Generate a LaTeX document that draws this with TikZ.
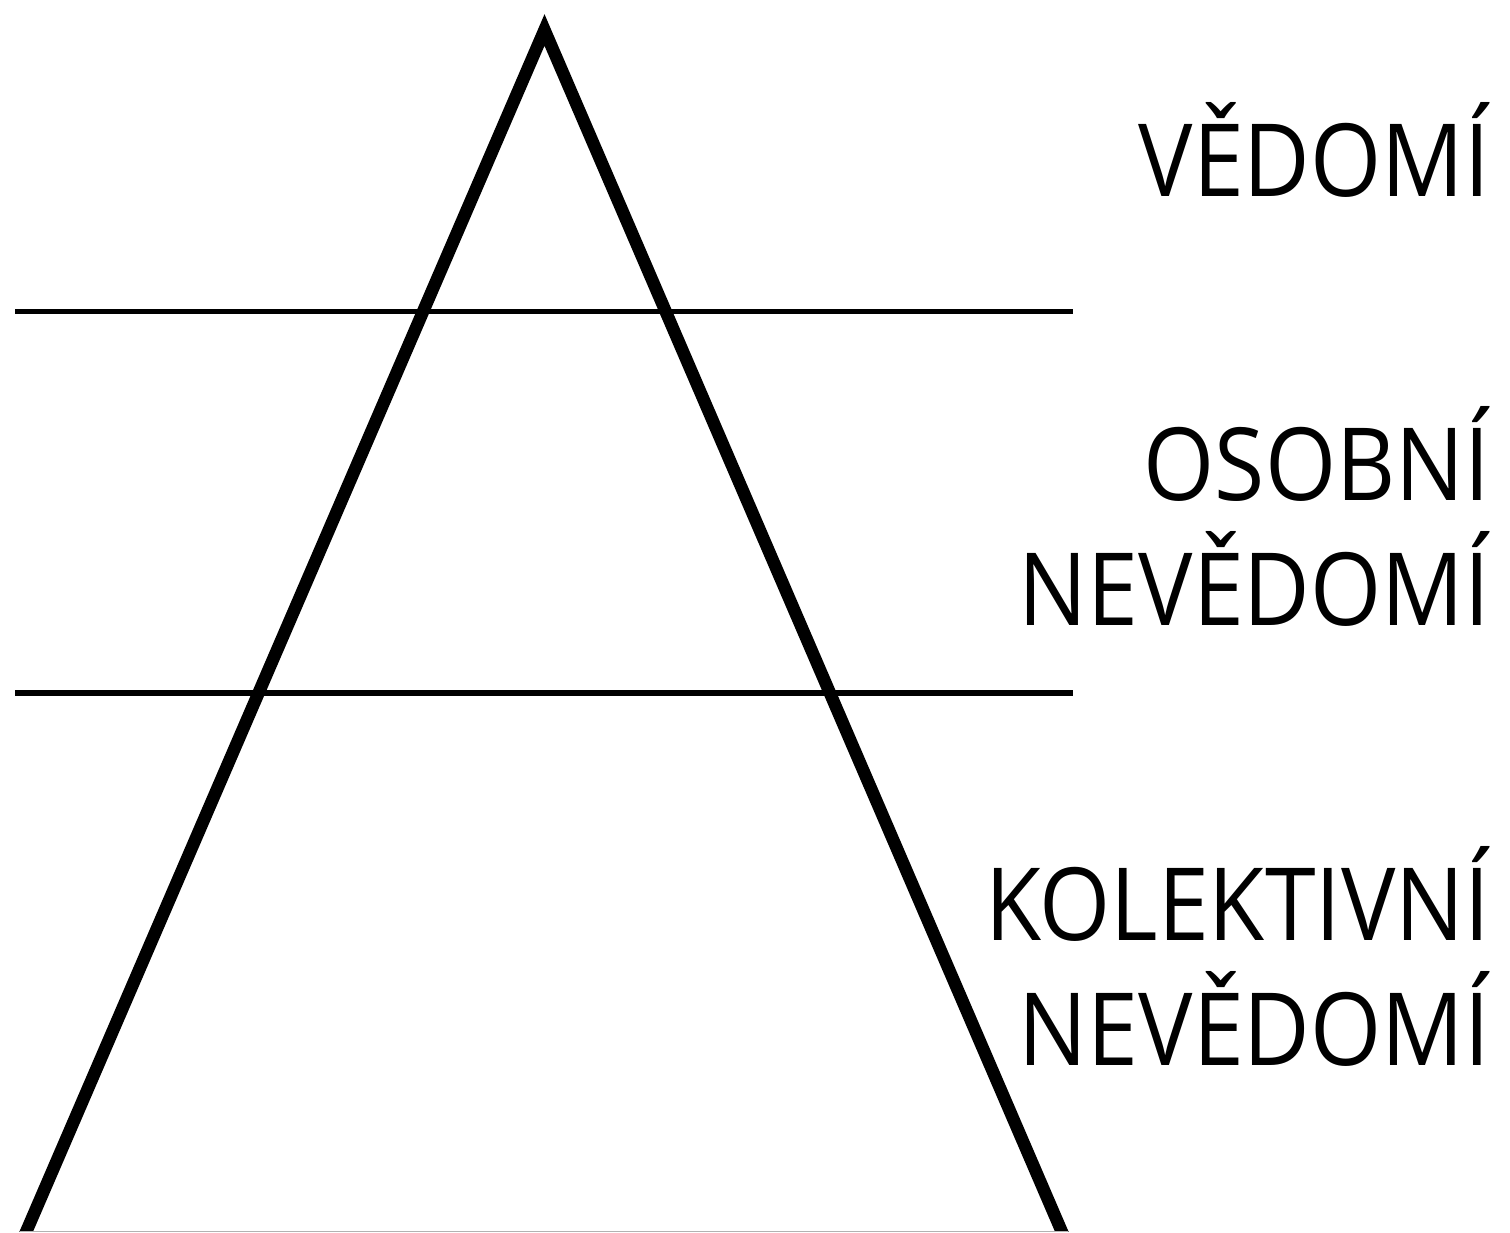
\documentclass[tikz,border=0pt]{standalone}
\usepackage{fontspec}
\setmainfont{Open Sans}
\usetikzlibrary{calc}
\newcommand{\narrowtxt}[1]{\scalebox{0.905}[1]{#1}}
\begin{document}
\begin{tikzpicture}[x=1pt,y=-1pt,
  lbl/.style={anchor=base east,inner sep=0pt,font=\fontsize{101}{125}\selectfont},
  rule/.style={line width=5.5pt},
  side/.style={line width=12.5pt,line join=miter}]
\useasboundingbox (0,0) rectangle (1510,1233);
\coordinate (apex) at (544.5,30);
\coordinate (bl) at (26.5,1231);
\coordinate (br) at (1061.5,1231);
\coordinate (l1a) at (15,311.7);
\coordinate (l1b) at (1073,311.7);
\coordinate (l2a) at (15,693);
\coordinate (l2b) at (1073,693);
\draw[rule] (l1a) -- (l1b);
\draw[rule] (l2a) -- (l2b);
\begin{scope}
\clip (0,0) rectangle (1510,1231.5);
\draw[side] ($(bl)!-0.02!(apex)$) -- (apex) -- ($(br)!-0.02!(apex)$);
\end{scope}
\draw[black!30,line width=1.5pt] (20,1231.5) -- (1068,1231.5);
\node[lbl] (ved) at (1490,197) {\narrowtxt{VĚDOMÍ}};
\node[lbl] (os1) at (1490,500) {\narrowtxt{OSOBNÍ}};
\node[lbl] (os2) at (1490,625) {\narrowtxt{NEVĚDOMÍ}};
\node[lbl] (ko1) at (1490,940) {\narrowtxt{KOLEKTIVNÍ}};
\node[lbl] (ko2) at (1490,1065) {\narrowtxt{NEVĚDOMÍ}};
\end{tikzpicture}
\end{document}
